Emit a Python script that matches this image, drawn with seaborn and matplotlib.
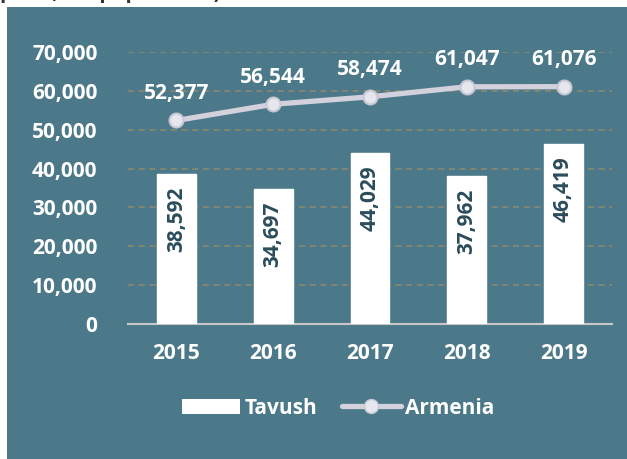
import matplotlib
matplotlib.use("Agg")
import matplotlib.pyplot as plt
import seaborn as sns
from matplotlib.patches import Patch
from matplotlib.lines import Line2D

years = ["2015", "2016", "2017", "2018", "2019"]
tavush = [38592, 34697, 44029, 37962, 46419]
armenia = [52377, 56544, 58474, 61047, 61076]
yticks = [0, 10000, 20000, 30000, 40000, 50000, 60000, 70000]

BG = "#4C7989"
LINE = "#D2D1DC"
DARK = "#2B4D5B"
FS = 15

sns.set_style("white")
plt.rcParams["font.family"] = ["Open Sans", "DejaVu Sans"]
plt.rcParams["font.weight"] = "bold"

fig = plt.figure(figsize=(6.27, 4.59), dpi=100)
fig.patch.set_facecolor("white")
# teal panel behind the chart
fig.patches.append(plt.Rectangle((7 / 627, 0), 1, 1 - 7 / 459, transform=fig.transFigure,
                                 facecolor=BG, edgecolor="none", zorder=-1))
fig.text(0.0, 1.0 + 2 / 459, "per 1,000 population)", fontsize=FS, color="#333333",
         ha="left", va="baseline", fontweight="bold")

ax = fig.add_axes([128 / 627, 1 - 324 / 459, (612 - 128) / 627, (324 - 52) / 459])
ax.set_facecolor("none")

sns.barplot(x=years, y=tavush, color="white", width=0.4, saturation=1, ax=ax, zorder=3)
sns.lineplot(x=list(range(len(years))), y=armenia, color=LINE, linewidth=3.8, ax=ax,
             marker="o", markersize=10, markerfacecolor="#E6E6EE",
             markeredgecolor="#C9C8D5", markeredgewidth=1.5, zorder=4)

ax.set_ylim(0, 70000)
ax.set_xlim(-0.5, 4.5)
ax.set_yticks(yticks)
ax.set_yticklabels([f"{v:,}" for v in yticks])
ax.yaxis.grid(True, linestyle=(0, (4, 3)), color="#8E8B6C", linewidth=1.1, zorder=0)
ax.set_axisbelow(True)
for s in ["left", "right", "top"]:
    ax.spines[s].set_visible(False)
ax.spines["bottom"].set_color("#C8C8C8")
ax.spines["bottom"].set_linewidth(1.5)
ax.tick_params(axis="both", length=0, labelsize=FS, labelcolor="white")
ax.tick_params(axis="y", pad=22)
ax.tick_params(axis="x", pad=14)
for lab in ax.get_xticklabels() + ax.get_yticklabels():
    lab.set_fontweight("bold")
ax.set_xlabel("")
ax.set_ylabel("")

for i, v in enumerate(tavush):
    ax.text(i, v - 3200, f"{v:,}", rotation=90, ha="center", va="top",
            color=DARK, fontsize=FS, fontweight="bold", zorder=5)
for i, v in enumerate(armenia):
    ax.text(i, v + 4300, f"{v:,}", ha="center", va="bottom",
            color="white", fontsize=FS, fontweight="bold", zorder=5)

handles = [Patch(facecolor="white", edgecolor="none"),
           Line2D([0], [0], color=LINE, linewidth=3.8, marker="o", markersize=10,
                  markerfacecolor="#E6E6EE", markeredgecolor="#C9C8D5")]
leg = fig.legend(handles, ["Tavush", "Armenia"], loc="center", ncol=2,
                 bbox_to_anchor=(338 / 627, 1 - 408 / 459), frameon=False,
                 handlelength=2.8, handletextpad=0.2, columnspacing=1.2,
                 prop={"size": FS, "weight": "bold"})
for t in leg.get_texts():
    t.set_color("white")

fig.savefig("out.png", dpi=100, facecolor=fig.get_facecolor())
